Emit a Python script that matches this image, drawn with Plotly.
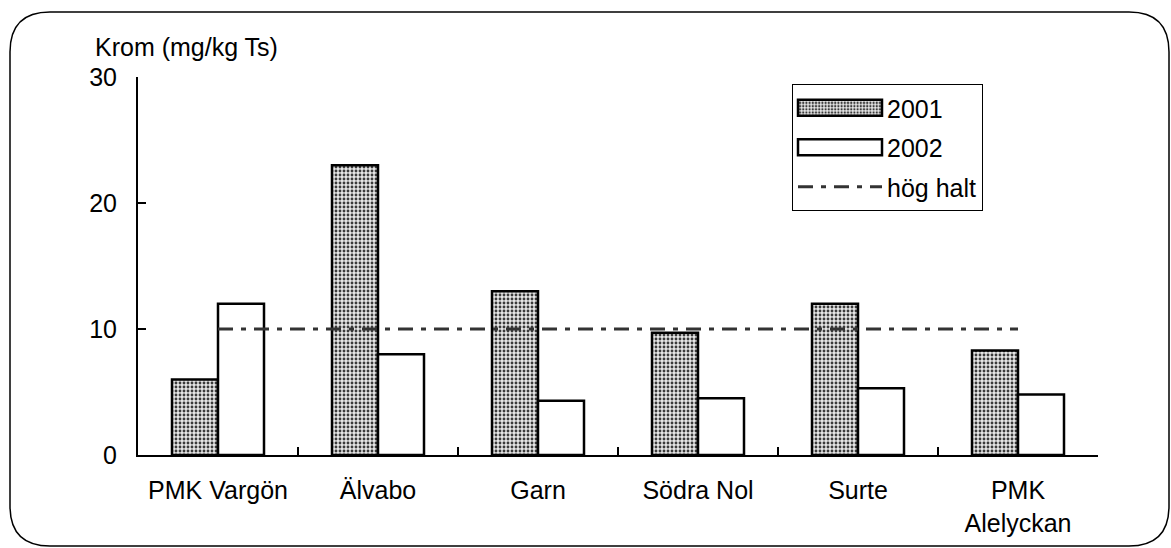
import plotly.graph_objects as go

# Sampling sites along the river and measured chromium content
sites = ["PMK Vargön", "Älvabo", "Garn", "Södra Nol", "Surte", "PMK<br>Alelyckan"]
krom_2001 = [6.0, 23.0, 13.0, 9.7, 12.0, 8.3]
krom_2002 = [12.0, 8.0, 4.3, 4.5, 5.3, 4.8]
hog_halt = [10, 10, 10, 10, 10, 10]

y_ticks = [0, 10, 20, 30]
y_title = "Krom (mg/kg Ts)"

W, H = 1171, 548
FONT = "Liberation Sans, Arial, sans-serif"


def px(x):
    return x / W


def py(y):
    return 1 - y / H


X_DOMAIN = [px(138), px(1098)]
Y_DOMAIN = [py(455), py(77)]
boundaries = [i - 0.5 for i in range(len(sites) + 1)]

fig = go.Figure()

fig.add_trace(go.Bar(
    x=sites, y=krom_2001, name="2001", legendgroup="a",
    marker=dict(
        color="#e6e6e6",
        line=dict(color="black", width=2.5),
        pattern=dict(shape=".", size=4, solidity=0.4,
                     fgcolor="#3a3a3a", bgcolor="#e6e6e6", fillmode="replace"),
    ),
))
fig.add_trace(go.Bar(
    x=sites, y=krom_2002, name="2002", legendgroup="b",
    marker=dict(color="white", line=dict(color="black", width=2.5)),
))
fig.add_trace(go.Scatter(
    x=sites, y=hog_halt, name="hög halt", mode="lines", legendgroup="c",
    line=dict(color="#333333", width=3, dash="15px,8px,5px,8px"),
))

tick_style = dict(tickcolor="black", tickwidth=2, ticklen=8)
plain = dict(showgrid=False, zeroline=False, automargin=False)

fig.update_layout(
    template="none",
    width=W, height=H,
    margin=dict(l=0, r=0, t=0, b=0, pad=0, autoexpand=False),
    paper_bgcolor="white", plot_bgcolor="rgba(0,0,0,0)",
    font=dict(family=FONT, color="black", size=25),
    barmode="group", bargap=0.425, bargroupgap=0,
    # main axes carry the labels and the inner half of the crossing ticks
    xaxis=dict(
        type="category", domain=X_DOMAIN, anchor="y",
        range=[-0.5, 5.5], ticks="inside", tickson="boundaries",
        showline=True, linecolor="black", linewidth=2,
        tickfont=dict(size=25), ticklabelstandoff=12,
        **tick_style, **plain,
    ),
    yaxis=dict(
        domain=Y_DOMAIN, anchor="x", range=[0, 30],
        tickvals=y_ticks, ticks="inside",
        showline=True, linecolor="black", linewidth=2,
        tickfont=dict(size=25), ticklabelstandoff=14,
        **tick_style, **plain,
    ),
    # overlay axes add the outer half of the crossing ticks
    xaxis2=dict(
        overlaying="x", anchor="y", domain=X_DOMAIN,
        type="linear", range=[-0.5, 5.5], tickvals=boundaries,
        ticks="outside", showticklabels=False, showline=False,
        **tick_style, **plain,
    ),
    yaxis2=dict(
        overlaying="y", anchor="x", side="left",
        domain=Y_DOMAIN, range=[0, 30], tickvals=y_ticks,
        ticks="outside", showticklabels=False, showline=False,
        **tick_style, **plain,
    ),
    legend=dict(
        x=px(792), y=py(84), xanchor="left", yanchor="top",
        xref="paper", yref="paper",
        bordercolor="black", borderwidth=1, bgcolor="white",
        font=dict(size=25), itemwidth=84, traceorder="grouped",
        tracegroupgap=4,
    ),
    showlegend=True,
)

fig.add_annotation(
    text=y_title, xref="paper", yref="paper",
    x=px(93), y=py(47), xanchor="left", yanchor="middle",
    showarrow=False, font=dict(size=25),
)

# rounded outer frame
r = 40
x0, x1, y0, y1 = 10, 1169, 12, 546
path = (
    f"M {px(x0 + r)},{py(y0)} L {px(x1 - r)},{py(y0)} "
    f"Q {px(x1)},{py(y0)} {px(x1)},{py(y0 + r)} "
    f"L {px(x1)},{py(y1 - r)} Q {px(x1)},{py(y1)} {px(x1 - r)},{py(y1)} "
    f"L {px(x0 + r)},{py(y1)} Q {px(x0)},{py(y1)} {px(x0)},{py(y1 - r)} "
    f"L {px(x0)},{py(y0 + r)} Q {px(x0)},{py(y0)} {px(x0 + r)},{py(y0)} Z"
)
fig.add_shape(type="path", path=path, xref="paper", yref="paper",
              line=dict(color="black", width=1.5), layer="below")

# stretch the bar legend keys into wide rectangular swatches
widen_keys = """
var gd = document.getElementById('{plot_id}');
function widenKeys() {
  gd.querySelectorAll('.legend .legendpoints path').forEach(function (p) {
    var d = p.getAttribute('d') || '';
    if (d.indexOf('M6,6H-6V-6H6Z') === 0) {
      p.setAttribute('d', 'M42,8H-42V-8H42Z');
    }
  });
}
widenKeys();
gd.on('plotly_afterplot', widenKeys);
"""

fig.write_html("out.html", post_script=widen_keys)
